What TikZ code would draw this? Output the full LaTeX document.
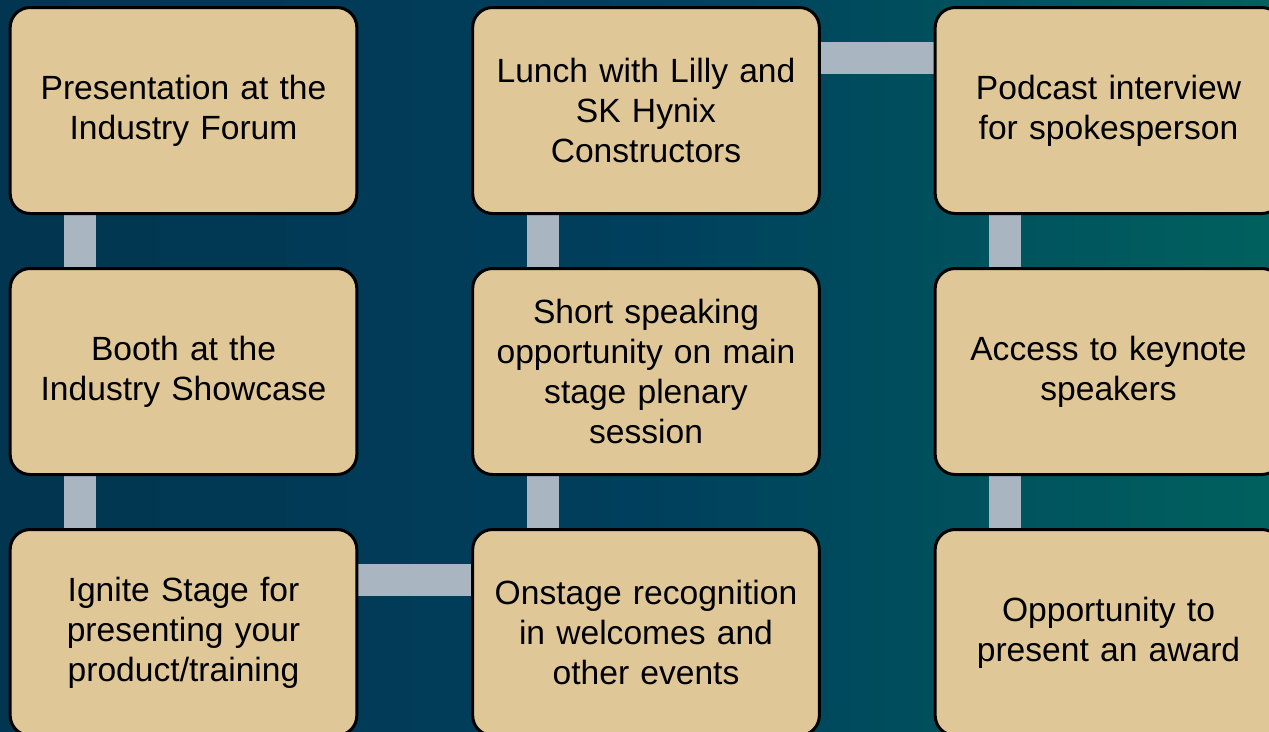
\documentclass[tikz,border=0pt]{standalone}
\usepackage{fontspec}
\setmainfont{Liberation Sans}
\usetikzlibrary{backgrounds}
\definecolor{bgL}{HTML}{02354F}
\definecolor{bgM}{HTML}{003F5D}
\definecolor{bgR}{HTML}{00615E}
\definecolor{boxfill}{HTML}{DFC797}
\definecolor{connc}{HTML}{A9B5C1}
\tikzset{
  item/.style={draw=black, line width=3pt, fill=boxfill, rounded corners=20pt,
    minimum width=346pt, minimum height=206pt, align=center, text width=340pt,
    font=\fontsize{33.6}{40}\selectfont, text=black},
  conn/.style={draw=connc, line width=32pt}
}
\begin{document}
\begin{tikzpicture}[x=1pt,y=-1pt]
\useasboundingbox (0,0) rectangle (1269,731);
\node[item] (a1) at (183.5,110.5) {Presentation at the\\Industry Forum};
\node[item] (a2) at (183.5,371.5) {Booth at the\\Industry Showcase};
\node[item] (a3) at (183.5,632.5) {Ignite Stage for\\presenting your\\product/training};
\node[item] (b1) at (646,110.5) {Lunch with Lilly and\\SK Hynix\\Constructors};
\node[item] (b2) at (646,371.5) {Short speaking\\opportunity on main\\stage plenary\\session};
\node[item] (b3) at (646,632.5) {Onstage recognition\\in welcomes and\\other events};
\node[item] (c1) at (1108.5,110.5) {Podcast interview\\for spokesperson};
\node[item] (c2) at (1108.5,371.5) {Access to keynote\\speakers};
\node[item] (c3) at (1108.5,632.5) {Opportunity to\\present an award};
\begin{scope}[on background layer]
  \shade[left color=bgL, right color=bgR, middle color=bgM] (0,0) rectangle (1269,731);
  \draw[conn] ([xshift=-103.5pt]a1.south) -- ([xshift=-103.5pt]a2.north);
  \draw[conn] ([xshift=-103.5pt]a2.south) -- ([xshift=-103.5pt]a3.north);
  \draw[conn] ([yshift=53pt]a3.east) -- ([yshift=53pt]b3.west);
  \draw[conn] ([xshift=-103pt]b3.north) -- ([xshift=-103pt]b2.south);
  \draw[conn] ([xshift=-103pt]b2.north) -- ([xshift=-103pt]b1.south);
  \draw[conn] ([yshift=53pt]b1.east) -- ([yshift=53pt]c1.west);
  \draw[conn] ([xshift=-103.5pt]c1.south) -- ([xshift=-103.5pt]c2.north);
  \draw[conn] ([xshift=-103.5pt]c2.south) -- ([xshift=-103.5pt]c3.north);
\end{scope}
\end{tikzpicture}
\end{document}
